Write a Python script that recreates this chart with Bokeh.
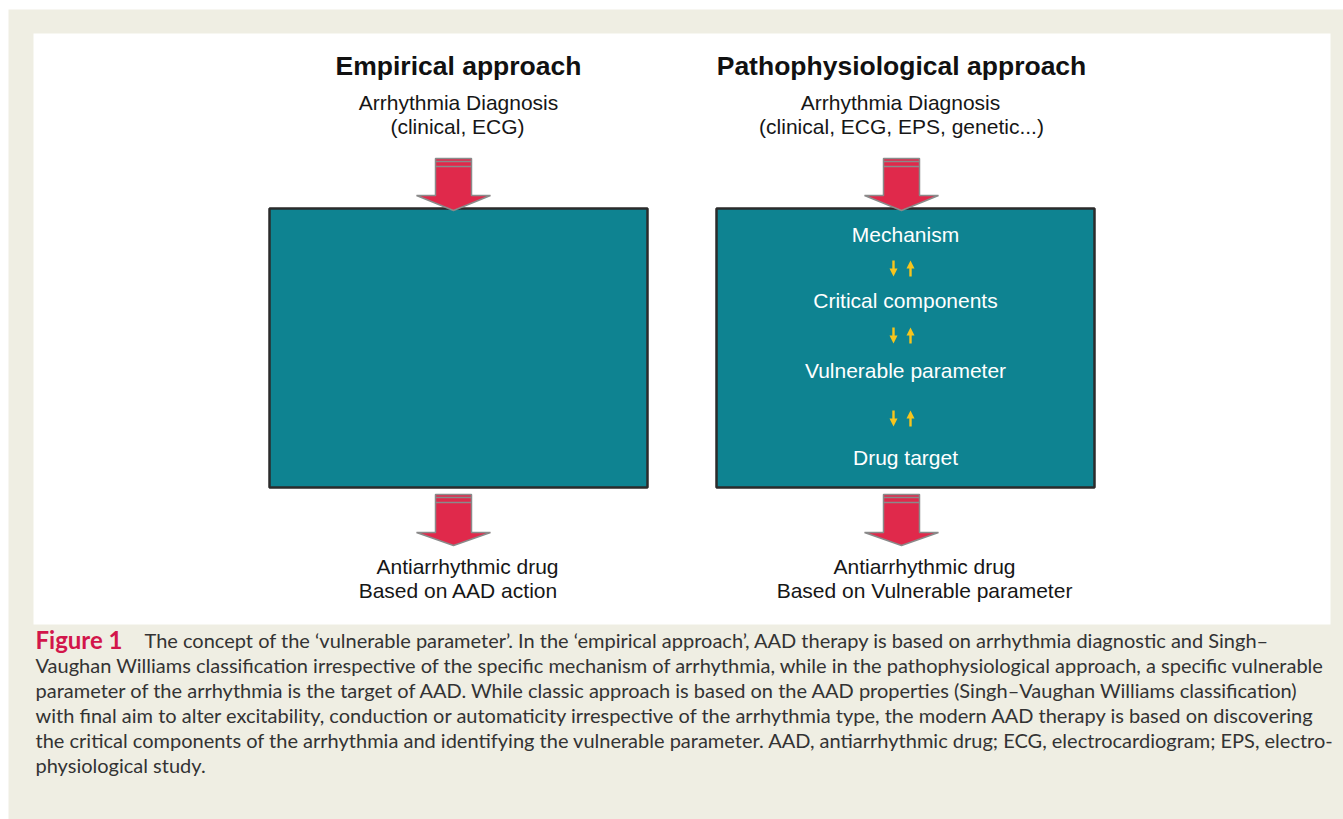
from bokeh.plotting import figure
from bokeh.models import Range1d, ColumnDataSource
from bokeh.core.properties import value
from bokeh.embed import file_html
from bokeh.resources import INLINE

# ---- content ----
left_title = "Empirical approach"
right_title = "Pathophysiological approach"
left_input = ["Arrhythmia Diagnosis", "(clinical, ECG)"]
right_input = ["Arrhythmia Diagnosis", "(clinical, ECG, EPS, genetic...)"]
right_steps = ["Mechanism", "Critical components", "Vulnerable parameter", "Drug target"]
left_output = ["Antiarrhythmic drug", "Based on AAD action"]
right_output = ["Antiarrhythmic drug", "Based on Vulnerable parameter"]
caption_label = "Figure 1"
caption_lines = [
    "The concept of the \u2018vulnerable parameter\u2019. In the \u2018empirical approach\u2019, AAD therapy is based on arrhythmia diagnostic and Singh\u2013",
    "Vaughan Williams classification irrespective of the specific mechanism of arrhythmia, while in the pathophysiological approach, a specific vulnerable",
    "parameter of the arrhythmia is the target of AAD. While classic approach is based on the AAD properties (Singh\u2013Vaughan Williams classification)",
    "with final aim to alter excitability, conduction or automaticity irrespective of the arrhythmia type, the modern AAD therapy is based on discovering",
    "the critical components of the arrhythmia and identifying the vulnerable parameter. AAD, antiarrhythmic drug; ECG, electrocardiogram; EPS, electro-",
    "physiological study.",
]

# ---- layout (screen-like coordinates) ----
W, H = 1343, 819
BEIGE = "#EFEEE3"
TEAL = "#0E8391"
RED = "#E0294B"
YELLOW = "#F7C51C"
FONT = value("Liberation Sans")
CAP_FONT = value("Lato")

p = figure(width=W, height=H, x_range=Range1d(0, W), y_range=Range1d(H, 0),
           output_backend="svg", toolbar_location=None, min_border=0)
p.axis.visible = False
p.grid.visible = False
p.outline_line_color = None
p.background_fill_color = "white"
p.border_fill_color = "white"

# beige page and white panel
p.quad(left=8, right=W, top=9, bottom=H, fill_color=BEIGE, line_color=None)
p.quad(left=33, right=1330, top=33, bottom=624, fill_color="white", line_color=None)

# boxes
boxes = dict(left=[269, 716], right=[647, 1094], top=[208, 208], bottom=[487, 487])
p.quad(source=ColumnDataSource(boxes), left="left", right="right", top="top", bottom="bottom",
       fill_color=TEAL, line_color="#2b2b2b", line_width=2.5)


def big_arrow(cx, top, head_y, tip):
    xs = [cx - 18, cx + 18, cx + 18, cx + 37, cx, cx - 37, cx - 18]
    ys = [top, top, head_y, head_y, tip, head_y, head_y]
    p.patch(xs, ys, fill_color=RED, line_color="#8a8a8a", line_width=1.5)
    p.segment(x0=[cx - 18, cx - 18], x1=[cx + 18, cx + 18], y0=[top + 3, top + 8], y1=[top + 3, top + 8],
              line_color="#8a8a8a", line_width=1.5)


for cx in (453, 901):
    big_arrow(cx, 158, 195, 210)
    big_arrow(cx, 494, 532, 545)


def small_arrow(cx, y0, y1, down):
    if down:
        xs = [cx - 1.2, cx + 1.2, cx + 1.2, cx + 4, cx, cx - 4, cx - 1.2]
        ys = [y0, y0, y1 - 8, y1 - 8, y1, y1 - 8, y1 - 8]
    else:
        xs = [cx - 1.2, cx + 1.2, cx + 1.2, cx + 4, cx, cx - 4, cx - 1.2]
        ys = [y1, y1, y0 + 8, y0 + 8, y0, y0 + 8, y0 + 8]
    p.patch(xs, ys, fill_color=YELLOW, line_color=None)


for yc in (268, 335, 418):
    small_arrow(893, yc - 8, yc + 8, True)
    small_arrow(910, yc - 8, yc + 8, False)

# titles
p.text(x=[458, 901], y=[65, 65], text=[left_title, right_title], text_font=FONT,
       text_font_size="26.5px", text_font_style="bold", text_align="center",
       text_baseline="middle", text_color="#111111")
p.text(x=[458, 457, 900, 901], y=[102, 126, 102, 126],
       text=left_input + right_input, text_font=FONT, text_font_size="21px",
       text_align="center", text_baseline="middle", text_color="#161616")
p.text(x=[905] * 4, y=[234, 300, 370, 457], text=right_steps, text_font=FONT,
       text_font_size="21px", text_align="center", text_baseline="middle", text_color="white")
p.text(x=[467, 458, 924, 924], y=[566, 590, 566, 590], text=left_output + right_output,
       text_font=FONT, text_font_size="21px", text_align="center", text_baseline="middle",
       text_color="#161616")

# caption
p.text(x=[35], y=[639], text=[caption_label], text_font=CAP_FONT, text_font_size="24px",
       text_font_style="bold", text_color="#D2164B", text_baseline="middle")
cap_x = [144] + [35] * 5
cap_y = [639, 664, 689, 714, 739, 764]
p.text(x=cap_x, y=cap_y, text=caption_lines, text_font=CAP_FONT, text_font_size="20px",
       text_color="#333333", text_baseline="middle")

open("out.html", "w").write(file_html(p, INLINE))
